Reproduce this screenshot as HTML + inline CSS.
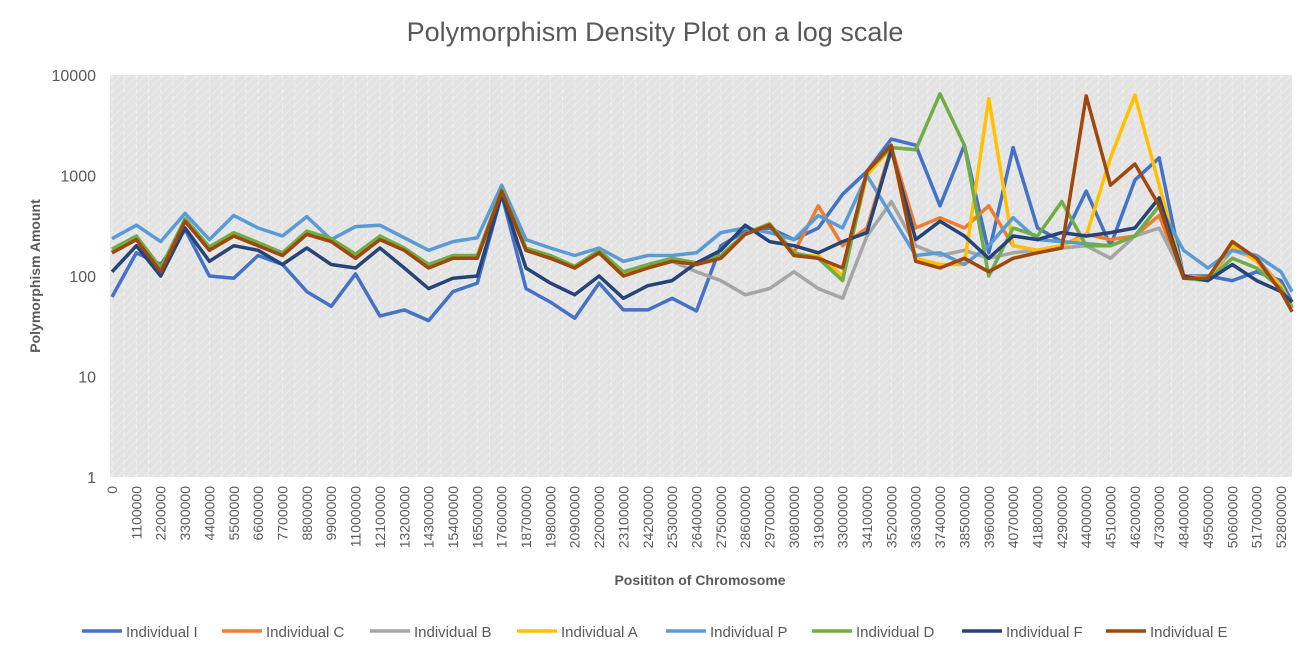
<!DOCTYPE html>
<html><head><meta charset="utf-8"><style>
body{margin:0;background:#fff;font-family:"Liberation Sans",Arial,sans-serif}
svg text{font-family:"Liberation Sans",Arial,sans-serif}
</style></head><body>
<svg id="c" width="1306" height="653">
<defs><pattern id="hatch" width="6" height="6" patternUnits="userSpaceOnUse" patternTransform="rotate(45)">
<rect width="6" height="6" fill="#e3e3e3"/><line x1="0" y1="0" x2="0" y2="6" stroke="#ececec" stroke-width="2"/></pattern></defs>
<text x="655" y="41" text-anchor="middle" font-size="27" fill="#595959">Polymorphism Density Plot on a log scale</text>
<rect x="110" y="75" width="1182" height="402" fill="url(#hatch)"/>
<g id="grid"></g><g id="yt"></g><g id="xt"></g><g id="lines"></g>
<text transform="translate(40,276) rotate(-90)" text-anchor="middle" font-size="14" font-weight="bold" fill="#595959">Polymorphism Amount</text>
<text x="700" y="585" text-anchor="middle" font-size="14" font-weight="bold" fill="#595959">Posititon of Chromosome</text>
<g id="legend"></g>
</svg>
<script>
const positions=[0,1.1,2.2,3.3,4.4,5.5,6.6,7.7,8.8,9.9,11,12.1,13.2,14.3,15.4,16.5,17.6,18.7,19.8,20.9,22,23.1,24.2,25.3,26.4,27.5,28.6,29.7,30.8,31.9,33,34.1,35.2,36.3,37.4,38.5,39.6,40.7,41.8,42.9,44,45.1,46.2,47.3,48.4,49.5,50.6,51.7,52.8,53.3];
const seriesNames=["Individual I","Individual C","Individual B","Individual A","Individual P","Individual D","Individual F","Individual E"];
const seriesColors=["#4472C4","#ED7D31","#A5A5A5","#FFC000","#5B9BD5","#70AD47","#264478","#9E480E"];
const valsI=[62,170,130,290,100,95,160,130,70,50,105,40,46,36,70,85,650,75,55,38,85,46,46,60,45,200,280,300,230,300,650,1100,2300,2000,500,2000,170,1900,300,220,700,200,900,1500,100,100,90,110,90,55];
const valsC=[175,240,115,360,190,260,210,165,270,230,160,240,185,125,155,155,720,185,155,120,175,105,125,145,135,155,265,330,170,500,200,300,1900,300,380,300,500,200,180,200,260,230,250,400,95,95,200,140,75,48];
const valsB=[170,230,110,350,180,250,200,160,260,220,150,230,180,120,150,150,700,180,150,120,170,100,120,140,110,90,65,75,110,75,60,250,550,200,160,180,150,170,180,190,200,150,250,300,100,95,180,150,80,50];
const valsA=[180,245,115,360,190,260,210,165,270,230,160,245,185,125,155,155,720,185,155,120,175,105,125,145,135,155,265,330,160,160,100,1000,1900,150,130,130,5800,200,180,200,250,1500,6300,800,100,95,200,140,80,48];
const valsP=[235,320,220,420,230,400,300,250,390,230,310,320,240,180,220,240,800,230,190,160,190,140,160,160,170,270,300,270,230,400,300,1000,400,160,170,130,200,380,230,220,210,200,250,500,180,120,180,160,110,70];
const valsD=[185,250,120,370,195,270,215,170,280,235,165,250,190,130,160,160,730,190,160,125,180,110,130,150,135,160,265,330,170,150,90,1100,1900,1800,6500,2000,100,300,250,550,200,200,250,500,95,90,150,120,75,48];
const valsF=[110,200,100,300,140,200,180,130,190,130,120,190,120,75,95,100,650,120,85,65,100,60,80,90,135,180,320,220,200,170,220,270,1800,230,350,250,150,250,230,270,250,270,300,600,100,90,130,90,70,55];
const valsE=[170,230,110,350,180,250,200,160,260,220,150,230,180,120,150,150,700,180,150,120,170,100,120,140,130,150,260,320,160,150,120,1100,2000,140,120,150,110,150,170,190,6200,800,1300,500,95,95,220,150,70,44];
const allVals=[valsI,valsC,valsB,valsA,valsP,valsD,valsF,valsE];
const yTicks=[1,10,100,1000,10000];
const xLabels=[];for(let i=0;i<=48;i++)xLabels.push(String(Math.round(i*1100000)));
const NS="http://www.w3.org/2000/svg";
function X(p){return 112+(p/52.8)*(1281-112);}
function Y(v){return 477-Math.log10(v)*100.5;}
function mk(t,a,par){const e=document.createElementNS(NS,t);for(const k in a)e.setAttribute(k,a[k]);document.getElementById(par).appendChild(e);return e;}
yTicks.forEach(v=>{const t=mk("text",{x:96,y:Y(v)+6,"text-anchor":"end","font-size":"16",fill:"#595959"},"yt");t.textContent=v;

});
for(let i=0;i<=96;i++){const x=112+i*(1281-112)/96;const l=mk("line",{x1:x,y1:75,x2:x,y2:477,stroke:"#f2f2f2","stroke-width":"1","stroke-dasharray":"4 3"},"grid");

}
xLabels.forEach((s,i)=>{const x=X(i*1.1);const t=mk("text",{transform:`translate(${x+5},486) rotate(-90)`,"text-anchor":"end","font-size":"14",fill:"#595959"},"xt");t.textContent=s;

});
allVals.forEach((vals,s)=>{const d=vals.map((v,i)=>(i?"L":"M")+X(positions[i]).toFixed(1)+","+Y(v).toFixed(1)).join(" ");
const p=mk("path",{d:d,fill:"none",stroke:seriesColors[s],"stroke-width":"3.5","stroke-linejoin":"round"},"lines");

});
const lx=[82,222,370,517,666,812,962,1106];
seriesNames.forEach((n,s)=>{const g=mk("g",{},"legend");


const l=document.createElementNS(NS,"line");l.setAttribute("x1",lx[s]);l.setAttribute("x2",lx[s]+40);l.setAttribute("y1",631);l.setAttribute("y2",631);l.setAttribute("stroke",seriesColors[s]);l.setAttribute("stroke-width","3.5");g.appendChild(l);
const t=document.createElementNS(NS,"text");t.setAttribute("x",lx[s]+44);t.setAttribute("y",637);t.setAttribute("font-size","15");t.setAttribute("fill","#595959");t.textContent=n;g.appendChild(t);});
</script>
</body></html>
